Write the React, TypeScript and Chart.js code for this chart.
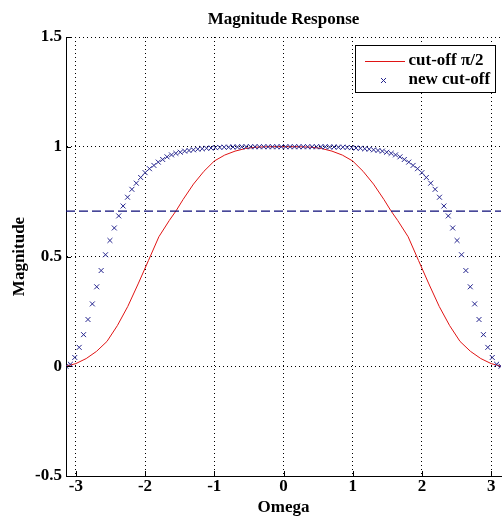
import React, { useEffect, useRef } from "react";
import { Chart, registerables } from "chart.js";

Chart.register(...registerables);

// ---------- data ----------
const TITLE = "Magnitude Response";
const X_LABEL = "Omega";
const Y_LABEL = "Magnitude";
const LEGEND_LABELS = ["cut-off \u03c0/2", "new cut-off"];

const X_TICKS = [-3, -2, -1, 0, 1, 2, 3];
const Y_TICKS = [-0.5, 0, 0.5, 1, 1.5];
const X_MIN = -3.1416;
const X_MAX = 3.1416;

// sample frequencies of the "new cut-off" markers
const OMEGA = [
  -3.142, -3.078, -3.015, -2.951, -2.888, -2.824, -2.761, -2.698, -2.634, -2.571,
  -2.507, -2.444, -2.38, -2.317, -2.253, -2.19, -2.126, -2.063, -1.999, -1.936,
  -1.872, -1.809, -1.745, -1.682, -1.618, -1.555, -1.491, -1.428, -1.365, -1.301,
  -1.238, -1.174, -1.111, -1.047, -0.984, -0.92, -0.857, -0.793, -0.73, -0.666,
  -0.603, -0.54, -0.476, -0.413, -0.349, -0.286, -0.222, -0.159, -0.095, -0.032,
  0.032, 0.095, 0.159, 0.222, 0.286, 0.349, 0.413, 0.476, 0.54, 0.603,
  0.666, 0.73, 0.793, 0.857, 0.92, 0.984, 1.047, 1.111, 1.174, 1.238,
  1.301, 1.365, 1.428, 1.491, 1.555, 1.618, 1.682, 1.745, 1.809, 1.872,
  1.936, 1.999, 2.063, 2.126, 2.19, 2.253, 2.317, 2.38, 2.444, 2.507,
  2.571, 2.634, 2.698, 2.761, 2.824, 2.888, 2.951, 3.015, 3.078, 3.142,
];

const NEW_CUTOFF = [
  0, 0.009, 0.04, 0.086, 0.144, 0.213, 0.284, 0.362, 0.436, 0.508,
  0.573, 0.63, 0.685, 0.73, 0.77, 0.806, 0.834, 0.86, 0.882, 0.9,
  0.915, 0.93, 0.942, 0.954, 0.963, 0.97, 0.975, 0.98, 0.983, 0.986,
  0.989, 0.991, 0.993, 0.994, 0.996, 0.997, 0.998, 0.998, 0.999, 0.999,
  1, 1, 1, 1, 1, 1, 1, 1, 1, 1,
  1, 1, 1, 1, 1, 1, 1, 1, 1, 1,
  0.999, 0.999, 0.998, 0.998, 0.997, 0.996, 0.994, 0.993, 0.991, 0.989,
  0.986, 0.983, 0.98, 0.975, 0.97, 0.963, 0.954, 0.942, 0.93, 0.915,
  0.9, 0.882, 0.86, 0.834, 0.806, 0.77, 0.73, 0.685, 0.63, 0.573,
  0.508, 0.436, 0.362, 0.284, 0.213, 0.144, 0.086, 0.04, 0.009, 0,
];

// cut-off pi/2 response
const RED_OMEGA = [
  -3.142, -3.0, -2.85, -2.7, -2.55, -2.4, -2.25, -2.1, -1.95, -1.8,
  -1.65, -1.55, -1.45, -1.3, -1.15, -1.0, -0.85, -0.7, -0.55, -0.4,
  -0.25, 0, 0.25, 0.4, 0.55, 0.7, 0.85, 1.0, 1.15, 1.3,
  1.45, 1.55, 1.65, 1.8, 1.95, 2.1, 2.25, 2.4, 2.55, 2.7,
  2.85, 3.0, 3.142,
];
const RED_MAG = [
  0, 0.012, 0.035, 0.068, 0.113, 0.185, 0.272, 0.375, 0.482, 0.59,
  0.664, 0.709, 0.76, 0.83, 0.888, 0.935, 0.962, 0.98, 0.992, 0.998,
  1, 1, 1, 0.998, 0.992, 0.98, 0.962, 0.935, 0.888, 0.83,
  0.76, 0.709, 0.664, 0.59, 0.482, 0.375, 0.272, 0.185, 0.113, 0.068,
  0.035, 0.012, 0,
];

const REF_LEVEL = 0.707;

// ---------- styles ----------
const FONT_FAMILY = "'Liberation Serif', 'DejaVu Serif', serif";
const RED = "#e01414";
const BLUE = "#26268f";
const DASH_BLUE = "#0c0c78";

const overlayPlugin = {
  id: "matlabOverlay",
  afterDraw(chart: any) {
    const { ctx, chartArea: a, scales } = chart;
    ctx.save();
    ctx.strokeStyle = "#000";
    ctx.lineWidth = 1;
    ctx.setLineDash([]);
    // inward tick marks
    ctx.beginPath();
    for (const v of Y_TICKS) {
      const y = Math.round(scales.y.getPixelForValue(v)) + 0.5;
      ctx.moveTo(a.left, y);
      ctx.lineTo(a.left + 5, y);
    }
    for (const v of X_TICKS) {
      const x = Math.round(scales.x.getPixelForValue(v)) + 0.5;
      ctx.moveTo(x, a.bottom);
      ctx.lineTo(x, a.bottom - 5);
    }
    ctx.stroke();

    // legend box
    const boxW = 140;
    const boxH = 47;
    const bx = Math.round(a.right - 6 - boxW) + 0.5;
    const by = Math.round(a.top + 8) + 0.5;
    ctx.fillStyle = "#fff";
    ctx.fillRect(bx, by, boxW, boxH);
    ctx.strokeStyle = "#000";
    ctx.strokeRect(bx, by, boxW, boxH);

    const row1 = by + 15;
    const row2 = by + 34.5;
    // red line sample
    ctx.fillStyle = RED;
    ctx.fillRect(Math.round(bx + 9), Math.round(row1), 40, 1);
    // x marker sample
    ctx.strokeStyle = BLUE;
    ctx.lineWidth = 1;
    const mx = bx + 28;
    const my = Math.round(row2) + 0.5;
    ctx.beginPath();
    ctx.moveTo(mx - 2.5, my - 2.5);
    ctx.lineTo(mx + 2.5, my + 2.5);
    ctx.moveTo(mx - 2.5, my + 2.5);
    ctx.lineTo(mx + 2.5, my - 2.5);
    ctx.stroke();

    ctx.fillStyle = "#000";
    ctx.font = `bold 17px ${FONT_FAMILY}`;
    ctx.textAlign = "left";
    ctx.textBaseline = "middle";
    ctx.fillText(LEGEND_LABELS[0], bx + 53, row1);
    ctx.fillText(LEGEND_LABELS[1], bx + 53, row2);
    ctx.restore();
  },
};

export default function App() {
  const canvasRef = useRef<HTMLCanvasElement | null>(null);

  useEffect(() => {
    const canvas = canvasRef.current;
    if (!canvas) return;
    const font = { family: FONT_FAMILY, size: 17, weight: "bold" as const, lineHeight: 1.2 };

    const chart = new Chart(canvas, {
      type: "line",
      data: {
        datasets: [
          {
            label: LEGEND_LABELS[0],
            data: RED_OMEGA.map((w, i) => ({ x: w, y: RED_MAG[i] })),
            borderColor: RED,
            borderWidth: 1,
            pointRadius: 0,
            tension: 0,
            fill: false,
            order: 3,
          },
          {
            label: LEGEND_LABELS[1],
            data: OMEGA.map((w, i) => ({ x: w, y: NEW_CUTOFF[i] })),
            showLine: false,
            pointStyle: "crossRot",
            pointRadius: 3.5,
            pointBorderWidth: 1,
            pointBorderColor: BLUE,
            pointBackgroundColor: BLUE,
            borderColor: BLUE,
            order: 2,
          },
          {
            label: "ref",
            data: [
              { x: X_MIN, y: REF_LEVEL },
              { x: X_MAX, y: REF_LEVEL },
            ],
            borderColor: DASH_BLUE,
            borderWidth: 1.3,
            borderDash: [9, 4],
            pointRadius: 0,
            fill: false,
            order: 1,
          },
        ],
      },
      options: {
        animation: false,
        responsive: false,
        devicePixelRatio: 1,
        layout: { padding: { left: 0, right: 2, top: 0, bottom: 0 } },
        plugins: {
          legend: { display: false },
          tooltip: { enabled: false },
          title: {
            display: true,
            text: TITLE,
            fullSize: false,
            color: "#000",
            font,
            padding: { top: 9, bottom: 7.6 },
          },
        },
        scales: {
          x: {
            type: "linear",
            min: X_MIN,
            max: X_MAX,
            afterBuildTicks: (scale: any) => {
              scale.ticks = X_TICKS.map((v) => ({ value: v }));
            },
            afterFit: (scale: any) => {
              scale.height = 42;
            },
            ticks: {
              color: "#000",
              font,
              padding: 0,
              maxRotation: 0,
              autoSkip: false,
              callback: (v: any) => String(v),
            },
            grid: {
              color: "#000",
              lineWidth: 1,
              drawTicks: false,
            },
            border: { display: true, color: "#000", width: 1, dash: [1, 3] },
            title: {
              display: true,
              text: X_LABEL,
              color: "#000",
              font,
              padding: { top: 0, bottom: 0 },
            },
          },
          y: {
            type: "linear",
            min: -0.5,
            max: 1.5,
            afterBuildTicks: (scale: any) => {
              scale.ticks = Y_TICKS.map((v) => ({ value: v }));
            },
            afterFit: (scale: any) => {
              scale.width = 66;
            },
            ticks: {
              color: "#000",
              font,
              padding: 4,
              autoSkip: false,
              callback: (v: any) => String(v),
            },
            grid: {
              color: "#000",
              lineWidth: 1,
              drawTicks: false,
            },
            border: { display: true, color: "#000", width: 1, dash: [1, 3] },
            title: {
              display: true,
              text: Y_LABEL,
              color: "#000",
              font,
              padding: { top: 9, bottom: 0 },
            },
          },
        },
      },
      plugins: [overlayPlugin],
    } as any);

    return () => chart.destroy();
  }, []);

  return (
    <div
      style={{
        position: "fixed",
        left: 0,
        top: 0,
        width: 502,
        height: 518,
        overflow: "hidden",
        background: "#fff",
      }}
    >
      <canvas ref={canvasRef} width={506} height={518} style={{ display: "block" }} />
    </div>
  );
}
